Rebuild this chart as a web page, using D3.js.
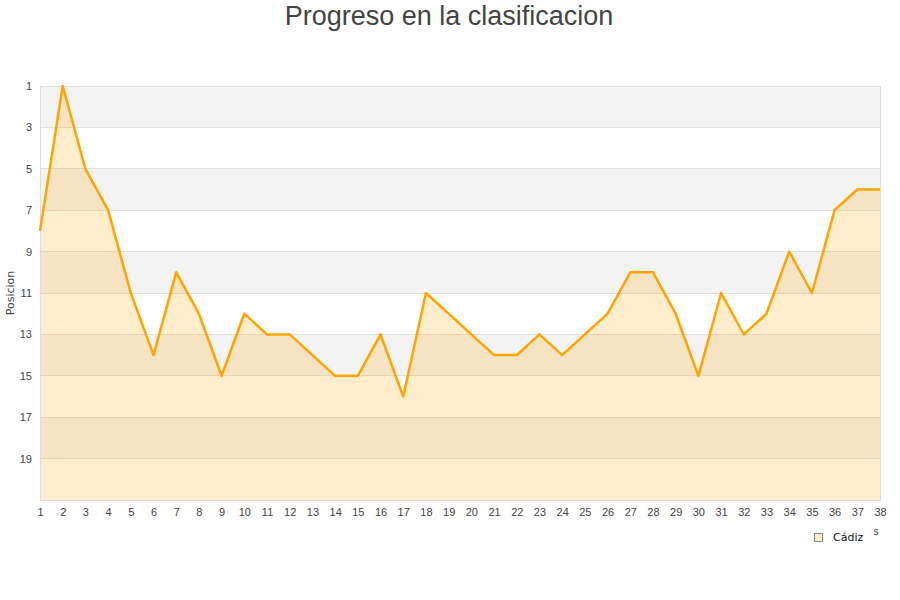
<!DOCTYPE html>
<html><head><meta charset="utf-8">
<script src="https://cdn.jsdelivr.net/npm/d3@7"></script>
<style>body{margin:0;background:#fff}svg{display:block}</style>
</head><body>
<script>
const jornadas = d3.range(1, 39);
const posiciones = [8,1,5,7,11,14,10,12,15,12,13,13,14,15,15,13,16,11,12,13,14,14,13,14,13,12,10,10,12,15,11,13,12,9,11,7,6,6];
const yTicks = [1,3,5,7,9,11,13,15,17,19];
const bands = [[1,3],[5,7],[9,11],[13,15],[17,19]];
const equipo = "Cádiz";
const titulo = "Progreso en la clasificacion";
const xTituloVisible = "s";

const W = 900, H = 600;
const m = {l: 40, r: 880, t: 86, b: 500};
const svg = d3.select("body").append("svg").attr("width", W).attr("height", H)
  .style("font-family", "'DejaVu Sans', sans-serif");

const x = d3.scaleLinear().domain([1, 38]).range([m.l, m.r]);
const y = d3.scaleLinear().domain([1, 21]).range([m.t, m.b]);

svg.append("text").attr("x", 449).attr("y", 25).attr("text-anchor", "middle")
  .style("font-family", "'Liberation Sans', Arial, sans-serif").style("font-size", "27px")
  .attr("fill", "#444").text(titulo);

// bands
svg.selectAll("rect.band").data(bands).join("rect").attr("class", "band")
  .attr("x", m.l).attr("width", m.r - m.l)
  .attr("y", d => y(d[0])).attr("height", d => y(d[1]) - y(d[0]))
  .attr("fill", "#f3f3f3");

// grid
svg.selectAll("line.grid").data(yTicks.concat([21])).join("line").attr("class", "grid")
  .attr("x1", m.l).attr("x2", m.r).attr("y1", d => y(d)).attr("y2", d => y(d))
  .attr("stroke", "#e0e0e0").attr("stroke-width", 1).attr("shape-rendering", "crispEdges");

// area
const area = d3.area().x((d, i) => x(jornadas[i])).y0(y(21)).y1(d => y(d));
svg.append("path").datum(posiciones).attr("d", area).attr("fill", "#ffa500").attr("fill-opacity", 0.2);

// frame
svg.append("rect").attr("x", m.l).attr("y", m.t).attr("width", m.r - m.l).attr("height", m.b - m.t)
  .attr("fill", "none").attr("stroke", "#ddd").attr("shape-rendering", "crispEdges");

// line
const line = d3.line().x((d, i) => x(jornadas[i])).y(d => y(d));
svg.append("path").datum(posiciones).attr("d", line).attr("fill", "none")
  .attr("stroke", "#ffa500").attr("stroke-width", 2.5).attr("stroke-linejoin", "round");

// y axis
const yAxis = d3.axisLeft(y).tickValues(yTicks).tickSize(0).tickPadding(0).tickFormat(d3.format("d"));
const gy = svg.append("g").attr("transform", `translate(${m.l - 8},0)`).call(yAxis);
gy.select(".domain").remove();
gy.selectAll("text").attr("fill", "#444").style("font-size", "11px");

// x axis
const xAxis = d3.axisBottom(x).tickValues(jornadas).tickSize(0).tickPadding(0).tickFormat(d3.format("d"));
const gx = svg.append("g").attr("transform", `translate(0,${m.b + 8})`).call(xAxis);
gx.select(".domain").remove();
gx.selectAll("text").attr("fill", "#444").style("font-size", "11px");

svg.append("text").attr("transform", "translate(14,293) rotate(-90)").attr("text-anchor", "middle")
  .attr("fill", "#444").style("font-size", "11px").text("Posicion");

// visible remnant of x title
svg.append("text").attr("x", 876).attr("y", 535).attr("text-anchor", "middle")
  .attr("fill", "#444").style("font-size", "10px").text(xTituloVisible);

// legend
svg.append("rect").attr("x", 814.5).attr("y", 533.5).attr("width", 8).attr("height", 8)
  .attr("fill", "#ffebcc").attr("stroke", "#888");
svg.append("text").attr("x", 833).attr("y", 541).attr("fill", "#111").style("font-size", "11px").text(equipo);
</script>
</body></html>
